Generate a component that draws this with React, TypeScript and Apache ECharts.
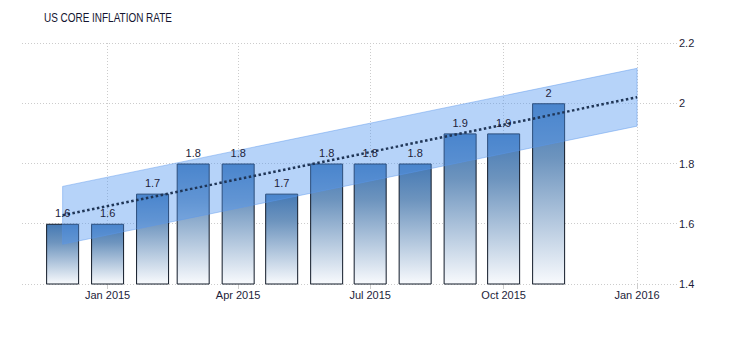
import React, { useEffect, useRef } from "react";
import * as echarts from "echarts";

const months: string[] = [
  "2014-12-01", "2015-01-01", "2015-02-01", "2015-03-01", "2015-04-01", "2015-05-01",
  "2015-06-01", "2015-07-01", "2015-08-01", "2015-09-01", "2015-10-01", "2015-11-01",
];
const values: number[] = [1.6, 1.6, 1.7, 1.8, 1.8, 1.7, 1.8, 1.8, 1.8, 1.9, 1.9, 2.0];
const trendDates: string[] = ["2014-12-01", "2016-01-01"];
const trendValues: number[] = [1.628, 2.02];
const bandHalfWidth = 0.096;
const tickDates: string[] = ["2015-01-01", "2015-04-01", "2015-07-01", "2015-10-01", "2016-01-01"];
const xMin = "2014-11-03";
const xMax = "2016-01-28T12:00:00Z";

const ts = (d: string) => new Date(d.length === 10 ? d + "T00:00:00Z" : d).getTime();
const MON = ["Jan", "Feb", "Mar", "Apr", "May", "Jun", "Jul", "Aug", "Sep", "Oct", "Nov", "Dec"];

export default function App() {
  const ref = useRef<HTMLDivElement>(null);
  useEffect(() => {
    if (!ref.current) return;
    const chart = echarts.init(ref.current, null, { renderer: "svg" });
    const tickTs = tickDates.map(ts);
    const textColor = "#1d1d3a";
    const font = "Liberation Sans, Arial, sans-serif";
    const barData = months.map((m, i) => [ts(m), values[i]]);
    chart.setOption({
      animation: false,
      graphic: [
        {
          type: "text",
          x: 44,
          y: 11.5,
          scaleX: 0.83,
          style: {
            text: "US CORE INFLATION RATE",
            font: "12px Liberation Sans, Arial, sans-serif",
            fill: "#141430",
          },
        },
      ],
      grid: { left: 22, right: 53, top: 43, bottom: 60 },
      xAxis: {
        type: "value",
        min: ts(xMin),
        max: ts(xMax),
        axisLine: { show: false },
        axisTick: {
          show: true,
          length: 5,
          customValues: tickTs,
          lineStyle: { color: "#cccccc" },
        },
        axisLabel: {
          customValues: tickTs,
          formatter: (v: number) => {
            const d = new Date(v);
            return MON[d.getUTCMonth()] + " " + d.getUTCFullYear();
          },
          color: textColor,
          fontFamily: font,
          fontSize: 11,
          margin: 5,
          hideOverlap: false,
          showMinLabel: true,
          showMaxLabel: true,
        },
        splitLine: {
          show: true,
          lineStyle: { color: "#cccccc", type: [1, 2], width: 1 },
        },
      },
      yAxis: {
        type: "value",
        position: "right",
        min: 1.4,
        max: 2.2,
        interval: 0.2,
        axisLine: { show: false },
        axisTick: { show: false },
        axisLabel: {
          color: textColor,
          fontFamily: font,
          fontSize: 11,
          margin: 2,
          formatter: (v: number) => String(Math.round(v * 10) / 10),
        },
        splitLine: {
          show: true,
          lineStyle: { color: "#cccccc", type: [1, 2], width: 1 },
        },
      },
      series: [
        {
          type: "bar",
          z: 2,
          barWidth: 33,
          barGap: "-100%",
          data: barData,
          itemStyle: {
            color: new echarts.graphic.LinearGradient(0, 0, 0, 1, [
              { offset: 0, color: "#4579b4" },
              { offset: 0.3, color: "#6d94be" },
              { offset: 1, color: "#f8fafd" },
            ]),
            borderColor: "#111a28",
            borderWidth: 1,
          },
        },
        {
          type: "custom",
          z: 3,
          silent: true,
          data: [[ts(trendDates[0]), trendValues[0]]],
          renderItem: (params: any, api: any) => {
            const pts = [
              api.coord([ts(trendDates[0]), trendValues[0] + bandHalfWidth]),
              api.coord([ts(trendDates[1]), trendValues[1] + bandHalfWidth]),
              api.coord([ts(trendDates[1]), trendValues[1] - bandHalfWidth]),
              api.coord([ts(trendDates[0]), trendValues[0] - bandHalfWidth]),
            ];
            return {
              type: "polygon",
              shape: { points: pts },
              style: {
                fill: "rgba(80,150,240,0.42)",
                stroke: "rgba(90,150,235,0.45)",
                lineWidth: 1,
              },
            };
          },
        },
        {
          type: "line",
          z: 4,
          symbol: "none",
          silent: true,
          lineStyle: { color: "#1f3556", width: 2.5, type: [2.5, 2.5] },
          data: trendDates.map((d, i) => [ts(d), trendValues[i]]),
        },
        {
          type: "bar",
          z: 5,
          barWidth: 33,
          barGap: "-100%",
          silent: true,
          data: barData,
          itemStyle: { color: "rgba(0,0,0,0)", borderWidth: 0 },
          label: {
            show: true,
            position: "top",
            distance: 5,
            color: textColor,
            fontFamily: font,
            fontSize: 11,
            formatter: (p: any) => String(p.value[1]),
          },
        },
      ],
    });
    return () => chart.dispose();
  }, []);
  return (
    <div
      ref={ref}
      style={{ position: "absolute", left: 0, top: 0, width: 730, height: 344 }}
    />
  );
}
